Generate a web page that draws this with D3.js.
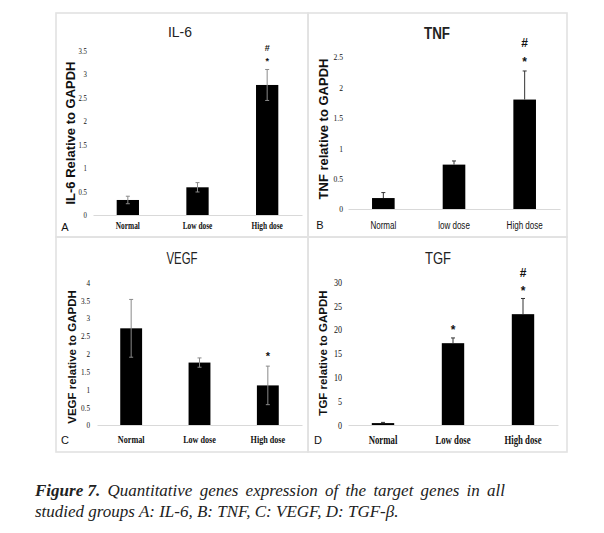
<!DOCTYPE html>
<html lang="en">
<head>
<meta charset="UTF-8">
<title>Figure 7 - gene expression</title>
<style>
  body, html { margin: 0; padding: 0; background: #fff; }
  svg { display: block; }
  .box { fill: none; stroke: #e2e2e2; stroke-width: 1.6px; }
  .bar { fill: #000; }
  .base { stroke: #d9d9d9; stroke-width: 1px; }
  .ytitle { font-family: "Liberation Sans", Arial, sans-serif; font-weight: bold; fill: #111; }
  .letter { font-family: "Liberation Sans", Arial, sans-serif; fill: #111; }
  .sig { font-family: "Liberation Sans", Arial, sans-serif; font-weight: bold; fill: #111; }
  .caption { font-family: "Liberation Serif", "Times New Roman", serif; font-style: italic; fill: #222; }
</style>
</head>
<body>
<script src="https://d3js.org/d3.v7.min.js"></script>
<script>
const width = 604, height = 533;

// groups on the x axis
const groups = ["Normal", "Low dose", "High dose"];
const groupsTnf = ["Normal", "low dose", "High dose"];

// IL-6
const il6Values = [0.32, 0.59, 2.77];
const il6Errors = [0.08, 0.10, 0.33];
const il6Sig = ["", "", "*#"];
const il6Ticks = [0, 0.5, 1, 1.5, 2, 2.5, 3, 3.5];

// TNF
const tnfValues = [0.18, 0.73, 1.80];
const tnfErrors = [0.09, 0.06, 0.47];
const tnfSig = ["", "", "*#"];
const tnfTicks = [0, 0.5, 1, 1.5, 2, 2.5];

// VEGF
const vegfValues = [2.71, 1.75, 1.11];
const vegfErrors = [0.81, 0.13, 0.54];
const vegfSig = ["", "", "*"];
const vegfTicks = [0, 0.5, 1, 1.5, 2, 2.5, 3, 3.5, 4];

// TGF
const tgfValues = [0.4, 17.2, 23.3];
const tgfErrors = [0.15, 1.1, 3.3];
const tgfSig = ["", "*", "*#"];
const tgfTicks = [0, 5, 10, 15, 20, 25, 30];

const captionLine1 = "Quantitative genes expression of the target genes in all";
const captionLine2 = "studied groups A: IL-6, B: TNF, C: VEGF, D: TGF-\u03b2.";

// layout for each panel
const panels = [
  { letter: "A", title: "IL-6", ytitle: "IL-6 Relative to GAPDH", cats: groups,
    values: il6Values, errors: il6Errors, sig: il6Sig, ticks: il6Ticks,
    box: [56, 13, 308, 237], xr: [93, 302], yr: [215, 50.7],
    titlePos: [180, 37], titleSize: 15, titleW: 24, titleBold: false,
    ytx: 70, yty: 133, ytSize: 13,
    letterPos: [65, 231],
    tickFont: "Liberation Serif", tickSize: 8.5, tickScale: 0.8, tickPad: 6,
    catFont: "Liberation Serif", catSize: 10.5, catScale: 0.7, catPad: 7, catBold: true,
    err: "both", errColor: "#8a8a8a", sigSize: 9, starOff: 10, hashOff: 22 },
  { letter: "B", title: "TNF", ytitle: "TNF relative to GAPDH", cats: groupsTnf,
    values: tnfValues, errors: tnfErrors, sig: tnfSig, ticks: tnfTicks,
    box: [308, 13, 567, 237], xr: [348, 560], yr: [209, 57],
    titlePos: [437, 39], titleSize: 16, titleW: 26, titleBold: true,
    ytx: 323, yty: 129, ytSize: 13,
    letterPos: [320, 229],
    tickFont: "Liberation Serif", tickSize: 9, tickScale: 0.85, tickPad: 5,
    catFont: "Liberation Sans", catSize: 11.5, catScale: 0.7, catPad: 12, catBold: false,
    err: "up", errColor: "#333", sigSize: 12, starOff: 10, hashOff: 28 },
  { letter: "C", title: "VEGF", ytitle: "VEGF relative to GAPDH", cats: groups,
    values: vegfValues, errors: vegfErrors, sig: vegfSig, ticks: vegfTicks,
    box: [56, 237, 308, 452], xr: [97, 302], yr: [425, 282.3],
    titlePos: [182, 264], titleSize: 16, titleW: 31, titleBold: false,
    ytx: 72, yty: 357, ytSize: 11.5,
    letterPos: [65, 444],
    tickFont: "Liberation Serif", tickSize: 9, tickScale: 0.8, tickPad: 7,
    catFont: "Liberation Serif", catSize: 11, catScale: 0.74, catPad: 10, catBold: true,
    err: "both", errColor: "#8a8a8a", sigSize: 11, starOff: 11, hashOff: 24 },
  { letter: "D", title: "TGF", ytitle: "TGF relative to GAPDH", cats: groups,
    values: tgfValues, errors: tgfErrors, sig: tgfSig, ticks: tgfTicks,
    box: [308, 237, 567, 452], xr: [348, 558], yr: [425, 282.3],
    titlePos: [438, 264], titleSize: 16, titleW: 26, titleBold: false,
    ytx: 323, yty: 353, ytSize: 11.5,
    letterPos: [318, 444],
    tickFont: "Liberation Serif", tickSize: 9.5, tickScale: 0.85, tickPad: 6,
    catFont: "Liberation Serif", catSize: 11.5, catScale: 0.76, catPad: 11, catBold: true,
    err: "up", errColor: "#333", sigSize: 12, starOff: 9, hashOff: 26 }
];

const svg = d3.select("body").append("svg")
  .attr("width", width)
  .attr("height", height);

panels.forEach(p => {
  const g = svg.append("g");

  g.append("rect").attr("class", "box")
    .attr("x", p.box[0]).attr("y", p.box[1])
    .attr("width", p.box[2] - p.box[0]).attr("height", p.box[3] - p.box[1]);

  const x = d3.scaleBand().domain(p.cats).range(p.xr)
    .paddingInner(0.68).paddingOuter(0.34);
  const y = d3.scaleLinear().domain([0, p.ticks[p.ticks.length - 1]]).range(p.yr);

  // y ticks, no axis line
  const ya = g.append("g")
    .attr("transform", `translate(${p.xr[0]},0)`)
    .call(d3.axisLeft(y).tickValues(p.ticks).tickSize(0).tickPadding(0).tickFormat(d => d));
  ya.select(".domain").remove();
  ya.selectAll("text")
    .attr("x", -p.tickPad / p.tickScale)
    .attr("transform", `scale(${p.tickScale},1)`)
    .style("font-family", p.tickFont)
    .style("font-size", p.tickSize + "px")
    .style("fill", "#111");

  // category axis with light baseline
  const xa = g.append("g")
    .attr("transform", `translate(0,${p.yr[0]})`)
    .call(d3.axisBottom(x).tickSize(0).tickSizeOuter(0).tickPadding(p.catPad));
  xa.select(".domain").attr("class", "base");
  xa.selectAll("text")
    .attr("transform", `scale(${p.catScale},1)`)
    .style("font-family", p.catFont)
    .style("font-size", p.catSize + "px")
    .style("font-weight", p.catBold ? "bold" : "normal")
    .style("fill", "#111");
  xa.selectAll(".tick text").attr("x", 0);

  const rows = p.cats.map((c, i) => ({ c, v: p.values[i], e: p.errors[i], s: p.sig[i] }));

  g.selectAll(".bar").data(rows).join("rect")
    .attr("class", "bar")
    .attr("x", d => x(d.c))
    .attr("width", x.bandwidth())
    .attr("y", d => y(d.v))
    .attr("height", d => y(0) - y(d.v));

  const cx = d => x(d.c) + x.bandwidth() / 2;
  const low = d => p.err === "both" ? y(Math.max(0, d.v - d.e)) : y(d.v);

  g.selectAll(".err").data(rows).join("line")
    .attr("x1", cx).attr("x2", cx)
    .attr("y1", d => y(d.v + d.e)).attr("y2", low)
    .attr("stroke", p.errColor).attr("stroke-width", 1);
  g.selectAll(".capt").data(rows).join("line")
    .attr("x1", d => cx(d) - 2).attr("x2", d => cx(d) + 2)
    .attr("y1", d => y(d.v + d.e)).attr("y2", d => y(d.v + d.e))
    .attr("stroke", p.errColor).attr("stroke-width", 1);
  if (p.err === "both") {
    g.selectAll(".capb").data(rows).join("line")
      .attr("x1", d => cx(d) - 2).attr("x2", d => cx(d) + 2)
      .attr("y1", low).attr("y2", low)
      .attr("stroke", p.errColor).attr("stroke-width", 1);
  }

  // significance marks: * just above the error bar, # above that
  rows.forEach(d => {
    const top = y(d.v + d.e);
    if (d.s.includes("*")) {
      g.append("text").attr("class", "sig")
        .attr("x", cx(d)).attr("y", top - p.starOff + p.sigSize * 0.45)
        .attr("text-anchor", "middle").style("font-size", p.sigSize + "px")
        .text("*");
    }
    if (d.s.includes("#")) {
      g.append("text").attr("class", "sig")
        .attr("x", cx(d)).attr("y", top - p.hashOff + p.sigSize * 0.35)
        .attr("text-anchor", "middle").style("font-size", p.sigSize + "px")
        .text("#");
    }
  });

  // chart title, squeezed to the width seen in the figure
  g.append("text")
    .attr("x", p.titlePos[0] - p.titleW / 2).attr("y", p.titlePos[1])
    .attr("textLength", p.titleW).attr("lengthAdjust", "spacingAndGlyphs")
    .style("font-family", "Liberation Sans, Arial, sans-serif")
    .style("font-size", p.titleSize + "px")
    .style("font-weight", p.titleBold ? "bold" : "normal")
    .style("fill", "#222")
    .text(p.title);

  g.append("text").attr("class", "ytitle")
    .attr("transform", `translate(${p.ytx},${p.yty}) rotate(-90)`)
    .attr("text-anchor", "middle").attr("dy", "0.35em")
    .style("font-size", p.ytSize + "px")
    .text(p.ytitle);

  g.append("text").attr("class", "letter")
    .attr("x", p.letterPos[0]).attr("y", p.letterPos[1])
    .attr("text-anchor", "middle")
    .style("font-size", "11px")
    .text(p.letter);
});

// caption, first line justified between 35 and 505
const capSize = 17;
const left = 35, right = 505;
const words1 = ["Figure 7."].concat(captionLine1.split(" "));
const tmp = words1.map((w, i) => svg.append("text").attr("class", "caption")
  .style("font-size", capSize + "px")
  .style("font-weight", i === 0 ? "bold" : "normal")
  .attr("y", 496)
  .text(w));
const widths = tmp.map(t => t.node().getComputedTextLength());
const gap = (right - left - d3.sum(widths)) / (words1.length - 1);
let cursor = left;
tmp.forEach((t, i) => {
  t.attr("x", cursor);
  cursor += widths[i] + gap;
});

svg.append("text").attr("class", "caption")
  .attr("x", left).attr("y", 517)
  .style("font-size", capSize + "px")
  .text(captionLine2);
</script>
</body>
</html>
